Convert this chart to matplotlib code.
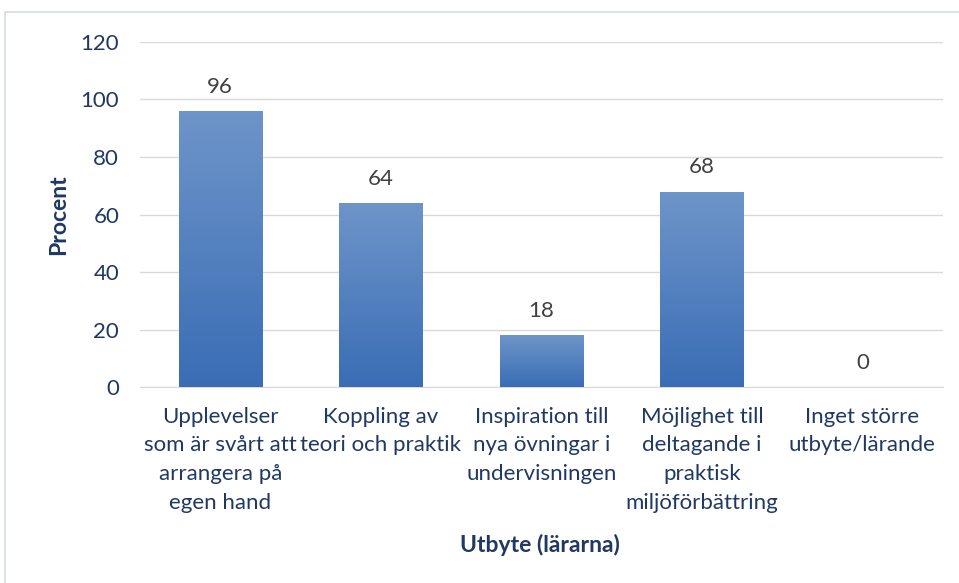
import numpy as np
import matplotlib.pyplot as plt
from matplotlib.patches import Rectangle
from matplotlib.colors import LinearSegmentedColormap

kategorier = [
    "Upplevelser\nsom är svårt att\narrangera på\negen hand",
    "Koppling av\nteori och praktik",
    "Inspiration till\nnya övningar i\nundervisningen",
    "Möjlighet till\ndeltagande i\npraktisk\nmiljöförbättring",
    "Inget större\nutbyte/lärande",
]
procent = [96, 64, 18, 68, 0]

textfarg = "#1F3864"
plt.rcParams['font.family'] = ['Lato', 'DejaVu Sans']

fig = plt.figure(figsize=(9.59, 5.83), dpi=100)
ax = fig.add_axes([0.146, 0.336, 0.837, 0.592])

x = np.arange(len(procent))
bars = ax.bar(x, procent, width=0.52, color="none", zorder=3)

# gradient fill in each bar
grad = np.linspace(0, 1, 256).reshape(-1, 1)
cmap = LinearSegmentedColormap.from_list("g", ["#3A6DB5", "#6E95C9"])
for b in bars:
    if b.get_height() <= 0:
        continue
    x0, y0 = b.get_x(), b.get_y()
    im = ax.imshow(grad, cmap=cmap, origin="lower", aspect="auto",
                   extent=[x0, x0 + b.get_width(), y0, y0 + b.get_height()],
                   zorder=3)
    im.set_clip_path(b)

for xi, v in zip(x, procent):
    ax.text(xi, v + 5, str(v), ha="center", va="bottom", fontsize=16, color="#404040")

ax.set_xlim(-0.5, len(procent) - 0.5)
ax.set_ylim(0, 120)
ax.set_yticks(range(0, 121, 20))
ax.yaxis.grid(True, color="#D9D9D9", linewidth=1, zorder=0)
ax.tick_params(length=0, labelsize=16, colors=textfarg, pad=15)
ax.tick_params(axis="x", pad=14)
ax.set_xticks(x)
ax.set_xticklabels(kategorier, fontsize=16, color=textfarg, linespacing=1.55)
for s in ["top", "right", "left"]:
    ax.spines[s].set_visible(False)
ax.spines["bottom"].set_color("#D9D9D9")

ax.set_ylabel("Procent", fontsize=16.5, fontweight="bold", color=textfarg, labelpad=8)
fig.text(0.563, 0.065, "Utbyte (lärarna)", ha="center", va="center",
         fontsize=16.5, fontweight="bold", color=textfarg)

fig.patches.append(Rectangle((5 / 959, -0.01), 1.0, 1 - 12 / 583 + 0.01,
                             transform=fig.transFigure, fill=False,
                             edgecolor="#D6DCE5", linewidth=1.2))

fig.savefig("out.png", dpi=100)
